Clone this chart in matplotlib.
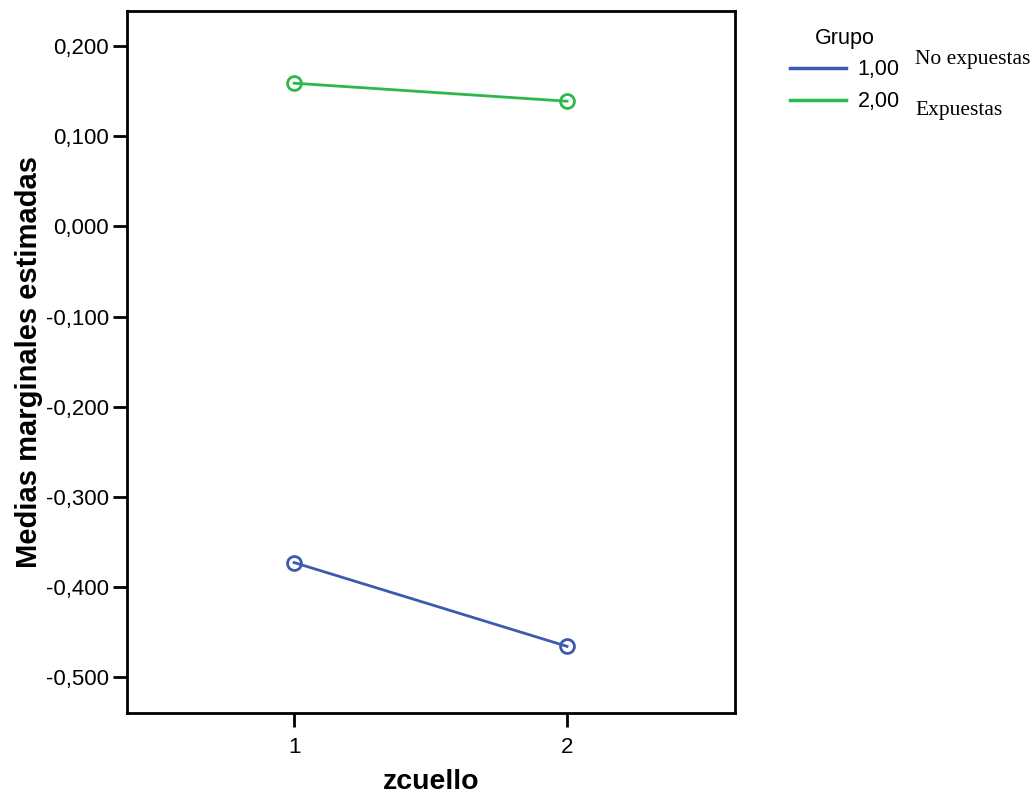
import matplotlib
matplotlib.use("Agg")
import matplotlib.pyplot as plt
from matplotlib.lines import Line2D
from matplotlib.ticker import FuncFormatter

# --- data ---
zcuello = [1, 2]
grupo_labels = ["1,00", "2,00"]
medias_grupo1 = [-0.373, -0.466]
medias_grupo2 = [0.159, 0.139]
colors = ["#3D5AAE", "#2DB84B"]
notes = ["No expuestas", "Expuestas"]
y_ticks = [0.2, 0.1, 0.0, -0.1, -0.2, -0.3, -0.4, -0.5]

plt.rcParams["font.family"] = ["Liberation Sans", "DejaVu Sans"]

fig = plt.figure(figsize=(10.35, 7.94), dpi=100)
ax = fig.add_axes([0.1227, 0.102, 0.5874, 0.884])

for vals, col in zip([medias_grupo1, medias_grupo2], colors):
    ax.plot(zcuello, vals, color=col, lw=2, marker="o", ms=10,
            mfc="none", mec=col, mew=2)

ax.set_xlim(0.388, 2.615)
ax.set_ylim(-0.540, 0.239)
ax.set_xticks(zcuello)
ax.set_yticks(y_ticks)
ax.yaxis.set_major_formatter(FuncFormatter(lambda v, p: f"{v:.3f}".replace(".", ",")))
ax.tick_params(axis="both", labelsize=16, width=2, length=10, color="black", pad=3)
ax.tick_params(axis="x", pad=7)
for s in ax.spines.values():
    s.set_linewidth(2)

ax.set_xlabel("zcuello", fontsize=20.5, fontweight="bold", labelpad=8)
ax.set_ylabel("Medias marginales estimadas", fontsize=21, fontweight="bold", labelpad=2)

handles = [Line2D([], [], color=c, lw=2.5) for c in colors]
leg = ax.legend(handles, grupo_labels, title="Grupo", loc="upper left",
                bbox_to_anchor=(1.058, 1.004), frameon=False, fontsize=15.5,
                title_fontsize=15.5, handlelength=2.6, handletextpad=0.55,
                labelspacing=0.5)

for i, t in enumerate(notes):
    fig.text(0.884, [0.919, 0.855][i], t, fontsize=15.5,
             family=["Liberation Serif", "DejaVu Serif"])

fig.savefig("out.png", dpi=100)
